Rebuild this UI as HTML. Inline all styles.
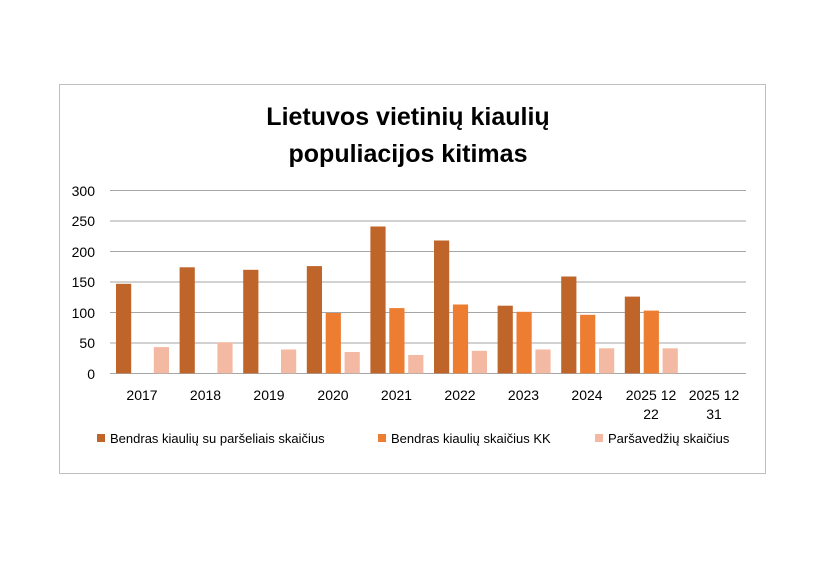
<!DOCTYPE html>
<html><head><meta charset="utf-8"><style>
body{margin:0;background:#fff;}
</style></head><body>
<svg width="817" height="578" viewBox="0 0 817 578" xmlns="http://www.w3.org/2000/svg" font-family="Liberation Sans, sans-serif">
<rect x="0" y="0" width="817" height="578" fill="#fff"/>
<rect x="59.5" y="84.5" width="706" height="389" fill="#fff" stroke="#bfbfbf" stroke-width="1"/>
<text x="408" y="125" text-anchor="middle" font-size="25" font-weight="bold" fill="#000">Lietuvos vietinių kiaulių</text>
<text x="408" y="162" text-anchor="middle" font-size="25" font-weight="bold" fill="#000">populiacijos kitimas</text>
<g stroke="#a6a6a6" stroke-width="1">
<line x1="110" y1="190.5" x2="746" y2="190.5"/>
<line x1="110" y1="221" x2="746" y2="221"/>
<line x1="110" y1="251.5" x2="746" y2="251.5"/>
<line x1="110" y1="282" x2="746" y2="282"/>
<line x1="110" y1="312.5" x2="746" y2="312.5"/>
<line x1="110" y1="343" x2="746" y2="343"/>
<line x1="110" y1="373.5" x2="746" y2="373.5"/>
</g>
<g font-size="14" fill="#000" text-anchor="end">
<text x="95" y="196">300</text><text x="95" y="226">250</text><text x="95" y="257">200</text>
<text x="95" y="287">150</text><text x="95" y="318">100</text><text x="95" y="348">50</text><text x="95" y="379">0</text>
</g>
<g fill="#C0652A">
<rect x="116" y="283.8" width="15.2" height="89.5"/>
<rect x="179.6" y="267.3" width="15.2" height="106"/>
<rect x="243.2" y="269.8" width="15.2" height="103.5"/>
<rect x="306.8" y="266.1" width="15.2" height="107.2"/>
<rect x="370.4" y="226.5" width="15.2" height="146.8"/>
<rect x="434" y="240.5" width="15.2" height="132.8"/>
<rect x="497.6" y="305.7" width="15.2" height="67.6"/>
<rect x="561.2" y="276.5" width="15.2" height="96.8"/>
<rect x="624.8" y="296.6" width="15.2" height="76.7"/>
</g>
<g fill="#ED7D31">
<rect x="325.7" y="313" width="15.2" height="60.3"/>
<rect x="389.3" y="308.1" width="15.2" height="65.2"/>
<rect x="452.9" y="304.5" width="15.2" height="68.8"/>
<rect x="516.5" y="311.8" width="15.2" height="61.5"/>
<rect x="580.1" y="314.8" width="15.2" height="58.5"/>
<rect x="643.7" y="310.6" width="15.2" height="62.7"/>
</g>
<g fill="#F4B9A2">
<rect x="153.8" y="347.1" width="15.2" height="26.2"/>
<rect x="217.4" y="342.2" width="15.2" height="31.1"/>
<rect x="281" y="349.5" width="15.2" height="23.8"/>
<rect x="344.6" y="352" width="15.2" height="21.3"/>
<rect x="408.2" y="355" width="15.2" height="18.3"/>
<rect x="471.8" y="350.8" width="15.2" height="22.5"/>
<rect x="535.4" y="349.5" width="15.2" height="23.8"/>
<rect x="599" y="348.3" width="15.2" height="25"/>
<rect x="662.6" y="348.3" width="15.2" height="25"/>
</g>
<g font-size="14" fill="#000" text-anchor="middle">
<text x="142" y="400">2017</text><text x="205.5" y="400">2018</text><text x="269" y="400">2019</text>
<text x="333" y="400">2020</text><text x="396.5" y="400">2021</text><text x="460" y="400">2022</text>
<text x="523.5" y="400">2023</text><text x="587" y="400">2024</text>
<text x="651" y="400">2025 12</text><text x="651" y="419">22</text>
<text x="714" y="400">2025 12</text><text x="714" y="419">31</text>
</g>
<g font-size="13" fill="#000">
<rect x="97" y="434" width="8" height="8" fill="#C0652A"/><text x="110" y="443">Bendras kiaulių su paršeliais  skaičius</text>
<rect x="378" y="434" width="8" height="8" fill="#ED7D31"/><text x="391" y="443">Bendras kiaulių skaičius KK</text>
<rect x="595" y="434" width="8" height="8" fill="#F4B9A2"/><text x="608" y="443">Paršavedžių skaičius</text>
</g>
</svg>
</body></html>
